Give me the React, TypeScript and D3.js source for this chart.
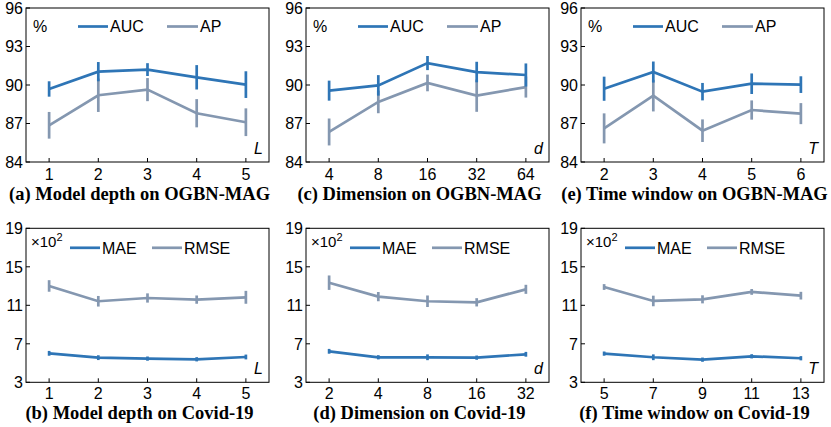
import React from "react";
import * as d3 from "d3";

// ---------- data ----------
const depthX = ["1", "2", "3", "4", "5"];
const dimTopX = ["4", "8", "16", "32", "64"];
const winTopX = ["2", "3", "4", "5", "6"];
const dimBotX = ["2", "4", "8", "16", "32"];
const winBotX = ["5", "7", "9", "11", "13"];

const topTicks = [84, 87, 90, 93, 96];
const botTicks = [3, 7, 11, 15, 19];

// (a) model depth on OGBN-MAG
const aAUC = [89.69, 91.04, 91.2, 90.6, 90.03];
const aAUCErr = [0.6, 0.75, 0.5, 0.95, 1.04];
const aAP = [86.86, 89.2, 89.64, 87.8, 87.1];
const aAPErr = [1.04, 1.3, 0.9, 1.1, 1.08];
// (c) dimension on OGBN-MAG
const cAUC = [89.56, 89.97, 91.71, 91.01, 90.78];
const cAUCErr = [0.78, 0.8, 0.55, 0.8, 0.9];
const cAP = [86.34, 88.68, 90.16, 89.17, 89.84];
const cAPErr = [1.05, 0.88, 0.65, 1.26, 0.82];
// (e) time window on OGBN-MAG
const eAUC = [89.71, 91.01, 89.48, 90.1, 90.03];
const eAUCErr = [0.94, 0.82, 0.68, 0.8, 0.65];
const eAP = [86.62, 89.17, 86.44, 88.05, 87.77];
const eAPErr = [1.17, 1.23, 0.88, 0.75, 0.82];
// (b) model depth on Covid-19 (x10^2)
const bMAE = [6.01, 5.56, 5.46, 5.39, 5.63];
const bMAEErr = [0.25, 0.25, 0.22, 0.22, 0.25];
const bRMSE = [13.01, 11.42, 11.76, 11.59, 11.83];
const bRMSEErr = [0.6, 0.55, 0.48, 0.43, 0.67];
// (d) dimension on Covid-19
const dMAE = [6.22, 5.6, 5.6, 5.56, 5.91];
const dMAEErr = [0.25, 0.22, 0.3, 0.22, 0.25];
const dRMSE = [13.35, 11.9, 11.42, 11.31, 12.66];
const dRMSEErr = [0.75, 0.48, 0.6, 0.43, 0.47];
// (f) time window on Covid-19
const fMAE = [5.98, 5.6, 5.35, 5.7, 5.5];
const fMAEErr = [0.22, 0.3, 0.22, 0.22, 0.22];
const fRMSE = [12.9, 11.45, 11.62, 12.39, 12.0];
const fRMSEErr = [0.3, 0.55, 0.42, 0.3, 0.4];

const BLUE = "#2E75B6";
const GRAY = "#8497B0";
const SANS = "'Liberation Sans', Arial, sans-serif";
const SERIF = "'Liberation Serif', 'Times New Roman', serif";

type Series = { name: string; values: number[]; errs: number[]; color: string };

type PanelProps = {
  left: number;
  top: number;
  width: number;
  height: number;
  cats: string[];
  ticks: number[];
  series: Series[];
  legend: Series[];
  unit: "pct" | "x100";
  letter: string;
  caption: string;
  captionY: number;
  labelY: number;
};

function Panel(p: PanelProps) {
  const { left, top, width, height, cats, ticks } = p;
  const right = left + width;
  const bottom = top + height;
  const x = d3.scalePoint<string>().domain(cats).range([left, right]).padding(0.47);
  const y = d3.scaleLinear().domain([ticks[0], ticks[ticks.length - 1]]).range([bottom, top]);
  const line = d3
    .line<number>()
    .x((_, i) => x(cats[i]) as number)
    .y((v) => y(v));
  const lw = 2.7;
  const isPct = p.unit === "pct";
  const legLine1 = isPct ? [52, 82] : [44, 74];
  const legLine2 = isPct ? [141, 172] : [126, 156];
  const legY = top + (isPct ? 18.5 : 19.5);
  return (
    <g>
      {p.series.map((s) => (
        <g key={s.name}>
          <path d={line(s.values) || ""} fill="none" stroke={s.color} strokeWidth={lw} />
          {s.values.map((v, i) => (
            <line
              key={i}
              x1={x(cats[i])}
              x2={x(cats[i])}
              y1={y(v - s.errs[i])}
              y2={y(v + s.errs[i])}
              stroke={s.color}
              strokeWidth={lw}
            />
          ))}
        </g>
      ))}
      <rect x={left} y={top} width={width} height={height} fill="none" stroke="#000" strokeWidth={1} />
      {ticks.map((t) => (
        <g key={t}>
          <line x1={left} x2={left + 4} y1={y(t)} y2={y(t)} stroke="#000" strokeWidth={1} />
          <text x={left - 3} y={y(t)} dy="0.36em" textAnchor="end" fontSize={16} fontFamily={SANS} fill="#000">
            {t}
          </text>
        </g>
      ))}
      {cats.map((c) => (
        <g key={c}>
          <line x1={x(c)} x2={x(c)} y1={bottom} y2={bottom - 4} stroke="#000" strokeWidth={1} />
          <text x={x(c)} y={p.labelY} textAnchor="middle" fontSize={16} fontFamily={SANS} fill="#000">
            {c}
          </text>
        </g>
      ))}
      {isPct ? (
        <text x={left + 7} y={top + 24} fontSize={16} fontFamily={SANS} fill="#000">
          %
        </text>
      ) : (
        <text x={left + 5} y={top + 19} fontSize={15} fontFamily={SANS} fill="#000">
          ×10
          <tspan fontSize={11} dy={-6}>
            2
          </tspan>
        </text>
      )}
      {p.legend.map((s, i) => {
        const seg = i === 0 ? legLine1 : legLine2;
        return (
          <g key={s.name}>
            <line x1={left + seg[0]} x2={left + seg[1]} y1={legY} y2={legY} stroke={s.color} strokeWidth={lw} />
            <text x={left + seg[1] + 2} y={legY} dy="0.36em" fontSize={16} fontFamily={SANS} fill="#000">
              {s.name}
            </text>
          </g>
        );
      })}
      <text x={right - 6} y={bottom - 8} textAnchor="end" fontSize={16} fontStyle="italic" fontFamily={SANS} fill="#000">
        {p.letter}
      </text>
      <text
        x={(left + right) / 2 - 8}
        y={p.captionY}
        textAnchor="middle"
        fontSize={18.5}
        fontWeight="bold"
        fontFamily={SERIF}
        fill="#000"
      >
        {p.caption}
      </text>
    </g>
  );
}

export default function App() {
  const lefts = [26, 306, 581];
  const W = 243;
  const topRow = { top: 8, height: 154, labelY: 180, captionY: 200 };
  const botRow = { top: 228.3, height: 154, labelY: 399, captionY: 419 };
  const mk = (auc: number[], aucE: number[], ap: number[], apE: number[]) => {
    const A: Series = { name: "AUC", values: auc, errs: aucE, color: BLUE };
    const B: Series = { name: "AP", values: ap, errs: apE, color: GRAY };
    return { series: [B, A], legend: [A, B] };
  };
  const mk2 = (mae: number[], maeE: number[], rmse: number[], rmseE: number[]) => {
    const A: Series = { name: "MAE", values: mae, errs: maeE, color: BLUE };
    const B: Series = { name: "RMSE", values: rmse, errs: rmseE, color: GRAY };
    return { series: [B, A], legend: [A, B] };
  };
  return (
    <svg width={831} height={427} style={{ position: "absolute", left: 0, top: 0, background: "#fff" }}>
      <rect x={0} y={0} width={831} height={427} fill="#fff" />
      <Panel left={lefts[0]} width={W} {...topRow} cats={depthX} ticks={topTicks} {...mk(aAUC, aAUCErr, aAP, aAPErr)} unit="pct" letter="L" caption="(a) Model depth on OGBN-MAG" />
      <Panel left={lefts[1]} width={W} {...topRow} cats={dimTopX} ticks={topTicks} {...mk(cAUC, cAUCErr, cAP, cAPErr)} unit="pct" letter="d" caption="(c) Dimension on OGBN-MAG" />
      <Panel left={lefts[2]} width={W} {...topRow} cats={winTopX} ticks={topTicks} {...mk(eAUC, eAUCErr, eAP, eAPErr)} unit="pct" letter="T" caption="(e) Time window on OGBN-MAG" />
      <Panel left={lefts[0]} width={W} {...botRow} cats={depthX} ticks={botTicks} {...mk2(bMAE, bMAEErr, bRMSE, bRMSEErr)} unit="x100" letter="L" caption="(b) Model depth on Covid-19" />
      <Panel left={lefts[1]} width={W} {...botRow} cats={dimBotX} ticks={botTicks} {...mk2(dMAE, dMAEErr, dRMSE, dRMSEErr)} unit="x100" letter="d" caption="(d) Dimension on Covid-19" />
      <Panel left={lefts[2]} width={W} {...botRow} cats={winBotX} ticks={botTicks} {...mk2(fMAE, fMAEErr, fRMSE, fRMSEErr)} unit="x100" letter="T" caption="(f) Time window on Covid-19" />
    </svg>
  );
}
